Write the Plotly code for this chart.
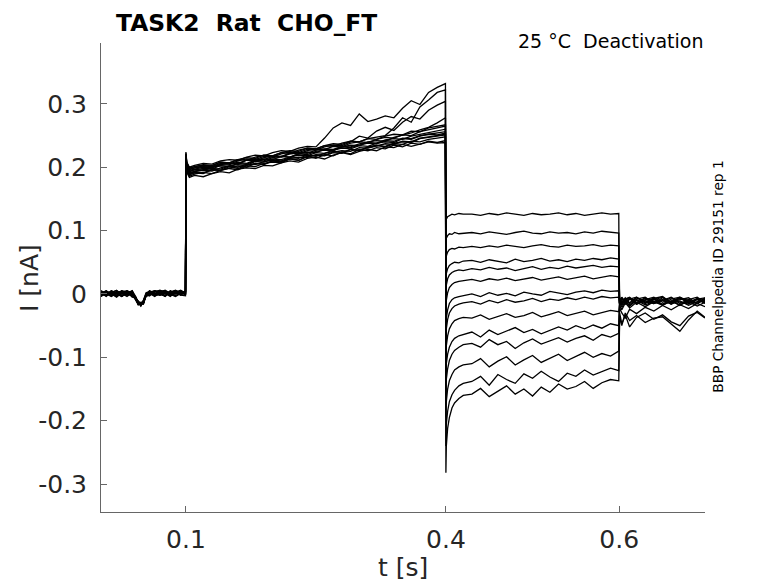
import numpy as np
import plotly.graph_objects as go

# sample times [s] for the four protocol segments
t_pre = [0.002, 0.008, 0.014, 0.020, 0.026, 0.032, 0.038, 0.042, 0.045, 0.048,
         0.051, 0.054, 0.058, 0.064, 0.070, 0.076, 0.082, 0.088, 0.094, 0.0995]
t_ramp = [0.100, 0.101, 0.104, 0.11, 0.12, 0.13, 0.14, 0.15, 0.16, 0.17, 0.18,
          0.19, 0.20, 0.21, 0.22, 0.23, 0.24, 0.25, 0.26, 0.27, 0.28, 0.29, 0.30,
          0.31, 0.32, 0.33, 0.34, 0.35, 0.36, 0.37, 0.38, 0.39, 0.3995]
t_tail = [0.400, 0.4005, 0.402, 0.404, 0.407, 0.410, 0.415, 0.420, 0.43, 0.44,
          0.45, 0.46, 0.47, 0.48, 0.49, 0.50, 0.51, 0.52, 0.53, 0.54, 0.55, 0.56,
          0.57, 0.58, 0.59, 0.5995]
t_post = [0.600, 0.6005, 0.603, 0.607, 0.612, 0.62, 0.63, 0.64, 0.65, 0.66,
          0.67, 0.68, 0.69, 0.699]

# currents in pA, one row per sweep
pre_pA = [
    [4, -2, 5, 0, -4, 2, 5, -7, -14, -16, -12, -3, 3, -2, -1, 5, -3, 4, -1, 2],
    [-3, 3, 0, -5, 2, 4, -3, -8, -17, -15, -13, -2, 0, 5, 1, -4, 3, 6, 1, 4],
    [0, 5, -3, 2, 4, -2, 0, -5, -12, -18, -10, 2, 4, -3, 5, 1, -2, 0, 5, 2],
    [5, 0, 2, 6, -3, 0, 3, -7, -15, -14, -16, -1, 5, 0, 3, 6, 1, 4, -2, -3],
    [-4, 2, -3, 0, 5, 3, -5, -6, -13, -17, -11, -4, -2, 4, 0, -3, 5, 1, 3, 0],
    [2, -4, 3, 1, 0, 5, 1, -9, -16, -13, -15, -2, 0, 2, 6, 3, 0, -4, 1, 5],
    [0, 4, 1, -4, 3, -2, 5, -4, -14, -19, -12, -1, 3, 5, -2, 0, 4, 1, 5, 1],
    [3, 1, -3, 4, 0, 2, -2, -7, -11, -15, -14, -3, 1, -4, 2, 5, -2, 3, 0, 3],
    [-2, 0, 5, 1, -4, 3, 0, -6, -16, -16, -10, 0, -3, 4, 5, 0, 2, 5, 3, -2],
    [1, 5, 0, -3, 2, 0, 4, -8, -13, -18, -13, -2, 4, 0, 1, -3, 5, 0, 2, 4],
    [0, -3, 3, 5, 1, -4, 2, -5, -15, -14, -12, -1, 0, 5, 3, 1, -4, 3, 6, 0],
    [5, 1, 0, 3, -3, 2, 4, -7, -12, -17, -15, -3, 5, 1, -2, 3, 1, -3, 4, 2],
    [-4, 3, 1, 0, 5, 0, -2, -6, -14, -16, -11, -2, 2, 0, 4, 5, 0, 2, -2, 4],
    [2, 0, -4, 2, 3, 5, 0, -9, -17, -15, -14, 0, 3, -2, 0, 2, 4, 5, 1, 0],
]

ramp_pA = [
    [212, 196, 188, 191, 190, 196, 195, 201, 198, 203, 206, 204, 210, 208, 213, 211, 217, 214, 220, 218, 224, 221, 228, 226, 231, 229, 235, 232, 238, 236, 241, 239, 242],
    [205, 192, 184, 187, 185, 190, 193, 191, 197, 199, 198, 203, 202, 207, 210, 208, 214, 216, 213, 219, 223, 220, 225, 228, 226, 232, 231, 236, 233, 237, 240, 238, 239],
    [218, 200, 190, 193, 195, 194, 199, 202, 200, 205, 204, 209, 211, 210, 215, 214, 219, 217, 222, 225, 223, 228, 227, 231, 234, 232, 237, 236, 241, 240, 244, 246, 248],
    [209, 194, 186, 189, 192, 190, 195, 198, 196, 202, 201, 206, 208, 207, 213, 211, 217, 219, 218, 223, 222, 228, 226, 232, 235, 233, 238, 240, 239, 245, 247, 249, 251],
    [214, 201, 193, 196, 198, 197, 203, 204, 208, 206, 211, 210, 215, 217, 216, 221, 220, 225, 227, 226, 232, 231, 235, 238, 237, 242, 241, 246, 245, 250, 252, 251, 254],
    [216, 198, 189, 192, 191, 196, 195, 199, 202, 200, 206, 205, 210, 209, 214, 216, 215, 220, 219, 224, 226, 225, 231, 230, 234, 237, 236, 241, 240, 246, 248, 250, 252],
    [220, 204, 196, 199, 201, 200, 205, 207, 206, 211, 213, 212, 217, 216, 221, 223, 222, 227, 229, 228, 233, 232, 237, 239, 238, 243, 245, 244, 249, 252, 255, 257, 260],
    [211, 199, 191, 194, 196, 198, 197, 202, 204, 203, 209, 208, 213, 212, 216, 219, 218, 223, 222, 227, 230, 229, 234, 233, 238, 240, 239, 245, 244, 249, 252, 254, 256],
    [217, 202, 195, 197, 200, 199, 204, 206, 205, 211, 210, 215, 218, 217, 222, 221, 226, 229, 228, 233, 232, 238, 240, 239, 244, 247, 246, 251, 250, 256, 259, 261, 265],
    [222, 206, 198, 201, 203, 202, 208, 207, 212, 211, 216, 219, 218, 223, 222, 227, 230, 229, 234, 233, 238, 241, 240, 245, 244, 249, 252, 251, 257, 256, 262, 264, 267],
    [213, 200, 193, 196, 195, 200, 202, 201, 206, 205, 210, 213, 212, 217, 216, 221, 224, 223, 228, 227, 232, 235, 234, 240, 242, 241, 247, 250, 254, 259, 263, 270, 278],
    [219, 204, 197, 199, 202, 201, 206, 205, 210, 213, 212, 217, 216, 221, 224, 223, 228, 227, 232, 235, 234, 240, 249, 246, 257, 263, 258, 271, 280, 276, 290, 298, 304],
    [221, 207, 199, 201, 204, 203, 208, 207, 212, 215, 214, 219, 218, 223, 226, 225, 230, 229, 234, 237, 236, 241, 240, 245, 248, 250, 262, 278, 271, 295, 306, 318, 322],
    [224, 208, 200, 203, 206, 205, 210, 212, 211, 216, 219, 218, 223, 226, 225, 230, 233, 232, 246, 262, 270, 266, 284, 272, 276, 281, 278, 293, 305, 299, 318, 326, 332],
]

tail_pA = [
    [112, 118, 122, 124, 126, 125, 127, 126, 126, 124, 127, 125, 128, 126, 124, 127, 125, 126, 128, 125, 127, 124, 126, 128, 126, 127],
    [80, 88, 92, 95, 94, 97, 95, 96, 97, 95, 98, 96, 94, 97, 99, 96, 95, 98, 96, 97, 95, 98, 96, 99, 97, 96],
    [50, 60, 66, 70, 72, 71, 74, 73, 75, 73, 76, 74, 77, 75, 73, 76, 78, 75, 74, 77, 75, 76, 78, 75, 77, 76],
    [20, 32, 40, 45, 48, 50, 49, 52, 53, 50, 54, 52, 49, 55, 51, 53, 56, 52, 54, 51, 55, 53, 56, 54, 57, 55],
    [0, 14, 24, 30, 34, 36, 38, 37, 40, 38, 42, 39, 41, 37, 40, 43, 39, 42, 40, 44, 41, 43, 45, 42, 44, 43],
    [-25, -10, 2, 10, 15, 18, 20, 21, 23, 20, 24, 22, 25, 21, 23, 26, 22, 24, 27, 23, 25, 28, 24, 26, 29, 27],
    [-55, -38, -25, -15, -9, -6, -4, -3, 0, -4, 2, -2, 1, -3, 3, 0, -2, 4, 1, -1, 3, 5, 2, 6, 4, 5],
    [-75, -55, -40, -30, -23, -19, -16, -14, -12, -16, -10, -14, -9, -13, -11, -7, -12, -8, -10, -6, -9, -5, -8, -4, -6, -5],
    [-100, -82, -66, -55, -47, -42, -39, -37, -38, -33, -40, -35, -31, -37, -34, -29, -36, -32, -28, -34, -30, -27, -33, -29, -26, -28],
    [-130, -110, -95, -84, -75, -70, -66, -64, -60, -68, -57, -64, -59, -53, -61, -56, -63, -58, -52, -57, -50, -55, -49, -54, -47, -50],
    [-160, -135, -118, -105, -95, -89, -84, -80, -78, -84, -72, -80, -75, -86, -77, -71, -79, -74, -69, -76, -70, -66, -73, -64, -68, -62],
    [-195, -170, -150, -137, -127, -120, -115, -112, -110, -102, -115, -106, -99, -112, -104, -97, -108, -101, -95, -105, -98, -92, -100, -94, -98, -90],
    [-240, -205, -185, -170, -159, -152, -145, -141, -138, -130, -144, -127, -135, -141, -126, -133, -122, -131, -138, -125, -130, -120, -128, -122, -117, -121],
    [-282, -240, -212, -195, -180, -172, -165, -160, -158, -149, -162, -153, -145, -158, -150, -161, -147, -155, -142, -150, -146, -138, -149, -140, -135, -137],
]

post_pA = [
    [-3, -8, -13, -6, -14, -5, -12, -15, -6, -13, -5, -11, -15, -7],
    [-6, -12, -7, -15, -8, -14, -6, -13, -16, -8, -5, -14, -7, -12],
    [-2, -5, -14, -9, -15, -6, -13, -7, -4, -14, -9, -6, -15, -8],
    [-6, -14, -5, -12, -7, -16, -9, -5, -13, -6, -15, -9, -5, -13],
    [-7, -11, -16, -8, -5, -14, -7, -15, -10, -5, -13, -16, -8, -6],
    [-9, -15, -6, -16, -8, -5, -14, -9, -5, -13, -7, -10, -15, -6],
    [-12, -16, -7, -13, -17, -8, -5, -15, -9, -16, -6, -13, -8, -14],
    [-15, -9, -17, -8, -6, -16, -10, -7, -17, -12, -6, -15, -9, -15],
    [-20, -12, -18, -10, -19, -9, -15, -8, -17, -11, -18, -9, -15, -8],
    [-24, -14, -21, -12, -19, -10, -17, -12, -9, -16, -11, -18, -12, -10],
    [-28, -18, -25, -14, -22, -13, -20, -12, -18, -11, -17, -12, -19, -13],
    [-34, -22, -30, -38, -24, -31, -21, -27, -18, -25, -17, -23, -15, -20],
    [-42, -30, -47, -33, -52, -37, -30, -40, -33, -44, -50, -35, -29, -38],
    [-58, -36, -50, -30, -42, -34, -45, -38, -36, -47, -59, -41, -27, -37],
]

y_ticks = [-0.3, -0.2, -0.1, 0, 0.1, 0.2, 0.3]
y_labels = ["-0.3", "-0.2", "-0.1", "0", "0.1", "0.2", "0.3"]
x_ticks = [0.1, 0.4, 0.6]
x_labels = ["0.1", "0.4", "0.6"]

t_all = t_pre + t_ramp + t_tail + t_post

fig = go.Figure()
for k in range(len(pre_pA)):
    sweep = pre_pA[k] + ramp_pA[k] + tail_pA[k] + post_pA[k]
    assert len(sweep) == len(t_all), (k, len(sweep))
    fig.add_trace(go.Scatter(
        x=t_all,
        y=np.array(sweep) / 1000.0,  # pA -> nA
        mode="lines",
        line=dict(color="black", width=1.3),
        showlegend=False,
        hoverinfo="skip",
    ))

font = "DejaVu Sans"
axcol = "#666666"
txtcol = "#262626"

# page body adds an 8 px offset, margins are shifted to compensate
fig.update_layout(
    width=778, height=583,
    margin=dict(l=93, r=81, t=35, b=79),
    paper_bgcolor="white",
    plot_bgcolor="white",
    font=dict(family=font, color=txtcol),
    xaxis=dict(
        range=[0.002, 0.699],
        tickvals=x_ticks, ticktext=x_labels,
        ticks="inside", ticklen=6, tickcolor=axcol,
        showline=True, linecolor=axcol, linewidth=1,
        showgrid=False, zeroline=False,
        tickfont=dict(size=25, family=font, color=txtcol),
        ticklabelstandoff=5,
    ),
    yaxis=dict(
        range=[-0.344, 0.396],
        tickvals=y_ticks, ticktext=y_labels,
        ticks="inside", ticklen=6, tickcolor=axcol,
        showline=True, linecolor=axcol, linewidth=1,
        showgrid=False, zeroline=False,
        tickfont=dict(size=25, family=font, color=txtcol),
        ticklabelstandoff=8,
    ),
)

fig.add_annotation(
    text="t [s]", xref="paper", yref="paper", x=0.5, y=-0.119,
    xanchor="center", yanchor="middle", showarrow=False,
    font=dict(size=25, family=font, color=txtcol),
)
fig.add_annotation(
    text="I [nA]", xref="paper", yref="paper", x=-0.1175, y=0.499,
    xanchor="center", yanchor="middle", showarrow=False, textangle=-90,
    font=dict(size=25, family=font, color=txtcol),
)
fig.add_annotation(
    text="<b>TASK2\u00a0\u00a0Rat\u00a0\u00a0CHO_FT</b>",
    xref="paper", yref="paper", x=0.023, y=1.043,
    xanchor="left", yanchor="middle", showarrow=False, borderpad=0,
    font=dict(size=23.4, family=font, color="black"),
)
fig.add_annotation(
    text="25 °C\u00a0\u00a0Deactivation",
    xref="paper", yref="paper", x=1.0, y=1.004,
    xanchor="right", yanchor="middle", showarrow=False,
    font=dict(size=19, family=font, color="black"),
)
fig.add_annotation(
    text="BBP Channelpedia ID 29151 rep 1",
    xref="paper", yref="paper", x=1.02, y=0.502,
    xanchor="center", yanchor="middle", showarrow=False, textangle=-90,
    font=dict(size=13.7, family=font, color="black"),
)

fig.write_html("out.html")
